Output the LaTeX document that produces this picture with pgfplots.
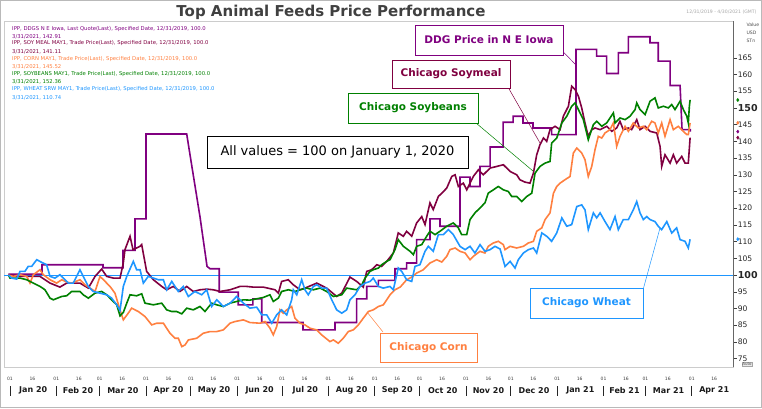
\documentclass[border=0pt]{standalone}
\usepackage{fontspec}
\setmainfont{DejaVu Sans}
\usepackage{pgfplots}
\pgfplotsset{compat=1.18}
\definecolor{ddg}{HTML}{800080}
\definecolor{meal}{HTML}{800040}
\definecolor{bean}{HTML}{008000}
\definecolor{corn}{HTML}{FF8040}
\definecolor{wheat}{HTML}{1E96FF}
\definecolor{titlec}{HTML}{404040}
\begin{document}
\begin{tikzpicture}[x=1pt,y=1pt]
\path[use as bounding box] (0,0) rectangle (762,408);
\draw[gray!55, line width=0.8pt] (0.4,0.4) rectangle (761.6,407.6);
\node[font=\bfseries\fontsize{15}{18}\selectfont, text=titlec] at (331,396) {Top Animal Feeds Price Performance};
\node[anchor=east, font=\fontsize{4.6}{5}\selectfont, text=gray!70] at (760,396) {12/31/2019 - 4/30/2021 (GMT)};
\node[anchor=west, font=\fontsize{4.6}{5}\selectfont, text=black!70] at (743,383) {Value};
\node[anchor=west, font=\fontsize{4.6}{5}\selectfont, text=black!70] at (743,375) {USD};
\node[anchor=west, font=\fontsize{4.6}{5}\selectfont, text=black!70] at (743,367) {STn};
\node[draw=gray!70, fill=gray!15, inner sep=0.6pt, font=\fontsize{4}{4.5}\selectfont, text=black!70] at (747,43.5) {Auto};
\begin{axis}[
  at={(4pt,41pt)}, anchor=south west, scale only axis,
  width=729.6pt, height=346pt,
  xmin=-4, xmax=484, ymin=72.5, ymax=176,
  clip=false,
  axis line style={gray!40, line width=0.6pt},
  /pgf/number format/assume math mode=true,
  ytick pos=right, yticklabel pos=right, tick align=outside,
  major tick length=3pt,
  ytick={75,80,85,90,95,105,110,115,120,125,130,135,140,145,155,160,165},
  extra y ticks={100,150},
  extra y tick style={yticklabel style={font=\bfseries\fontsize{9.5}{10}\selectfont}},
  ytick style={black!75, line width=0.5pt},
  yticklabel style={font=\fontsize{7.6}{8}\selectfont, text=black!85, inner sep=1pt},
  xtick={0,15,31,46,60,75,91,106,121,136,152,167,182,197,213,228,244,259,274,289,305,320,335,350,366,381,397,412,425,440,456,471},
  xticklabels={01,16,01,16,01,16,01,16,01,16,01,16,01,16,01,16,01,16,01,16,01,16,01,16,01,16,01,16,01,16,01,16},
  xtick style={draw=none},
  xticklabel style={font=\fontsize{4.5}{5}\selectfont, text=black!75, inner sep=1pt, yshift=-6pt},
]
% reference line at 100
\addplot[wheat, line width=0.7pt] coordinates {(-4,100) (484,100)};
% DDG N E Iowa
\addplot[ddg, line width=1.6pt] coordinates {
(-1,100.3) (21.4,100.3) (21.4,103.1) (62.2,103.1) (62.2,102.2) (75.6,102.2) (75.6,107.4) (83.6,107.4) (83.6,116.8) (91,116.8) (91,142.2) (118.2,142.2) (121.7,132.4) (127.1,117.4) (131.8,102.6) (133.8,101.9) (140,101.9) (140,94.9) (152.7,94.9) (152.7,91.1) (162.5,91.1) (162.5,92.9) (168.4,92.9) (168.4,85.8) (196,85.8) (196,83.6) (217.4,83.6) (217.4,85.8) (231.9,85.8) (231.9,92.9) (238.6,92.9) (238.6,96.6) (246.4,96.6) (246.4,98.4) (257.5,98.4) (257.5,101.9) (265.3,101.9) (265.3,103.6) (272,103.6) (272,110.6) (280.9,110.6) (280.9,116.8) (287.6,116.8) (287.6,114.6) (301,114.6) (301,129.3) (307.7,129.3) (307.7,126.5) (314.4,126.5) (314.4,132.5) (321.1,132.5) (321.1,138.3) (329.8,138.3) (329.8,145.7) (336.5,145.7) (336.5,147.5) (343.1,147.5) (343.1,145.5) (349.8,145.5) (349.8,144) (362.3,144) (362.3,142) (378.6,142) (378.6,167.5) (392.4,167.5) (392.4,165.5) (399.1,165.5) (399.1,160.3) (406.9,160.3) (406.9,166.5) (413.6,166.5) (413.6,171.3) (428.1,171.3) (428.1,169.5) (433.6,169.5) (433.6,164) (441.5,164) (441.5,156.7) (448.2,156.7) (449.5,143.5) (455,143.5) (455,142.9)};
% Soymeal
\addplot[meal, line width=1.6pt] coordinates {
(-1,100) (6.7,99.6) (20.1,99.6) (26.8,97.6) (33.4,96.4) (37.9,97.6) (46.8,97.6) (52.4,96.1) (56.9,99.6) (61.3,101.8) (64.7,99.6) (69.1,99.1) (73.6,99.1) (75.8,103.6) (76.9,107.6) (80.3,111.6) (82.3,107.6) (87,108.6) (88.1,109.1) (91.4,101.1) (95.9,98.6) (101.5,96.6) (104.8,95.6) (109.2,96.6) (113.7,95.1) (118.2,96.6) (122.6,95.1) (127.1,95.6) (131.6,95.8) (136,95.6) (140.5,95.1) (147.2,95.6) (153.8,96.6) (158.3,96.6) (162.7,96.4) (169.4,96.4) (177.3,95.6) (179.5,94.6) (181.7,98.1) (186.2,98.6) (189.5,97.1) (194,95.6) (197.3,96.1) (205.2,97.6) (211.8,96.1) (218.5,93.6) (221.9,94.6) (227.4,99.4) (231.9,98.1) (236.3,96.4) (238.6,101.1) (241.9,101.6) (245.3,103.1) (248.6,102.6) (252,104.1) (256.4,106.6) (259.7,112.6) (263.1,111.6) (265.3,113.1) (268.7,111.6) (272,115.6) (275.4,117.5) (277.6,115.1) (280.9,121.6) (283.1,119.6) (286.5,123.5) (288.8,124.5) (292.1,126) (295.5,129.5) (297.7,130) (299.9,126.5) (303.2,127.5) (305.5,125.5) (309.9,129.5) (313.3,131.5) (316.6,130) (321.1,132) (325.6,132.5) (330,133) (334.5,131) (338.9,130) (341.1,128.5) (344.5,127.8) (347.8,127.5) (350.1,130.5) (352.3,136) (354.5,139) (356.8,141) (359,140) (361.2,143.5) (364.6,144.5) (367.9,143.5) (370.1,147.5) (373.5,150.5) (375.7,156.5) (378,155.5) (380.2,153.5) (382.4,150) (384.6,145.5) (386.8,141.5) (389.1,143.5) (391.3,144) (394.7,143.5) (399.1,144.5) (402.5,143) (405.8,144) (408,146) (410.2,143.5) (413.6,144) (415.8,143.5) (419.2,146.5) (421.4,143.5) (424.8,144.5) (428.1,143) (432.6,142.5) (434.8,138.5) (435.9,132.5) (438.1,136) (441.5,133.5) (443.7,136) (445.9,133.5) (449.3,135.5) (451.5,133.5) (453.7,133.5) (454.9,141.1)};
% Corn
\addplot[corn, line width=1.6pt] coordinates {
(-1,100) (2.2,99.6) (6.7,100.1) (11.2,99.6) (13.4,97.6) (15.6,100.1) (20.1,101.6) (22.3,100.1) (26.8,98.6) (31.2,97.6) (34.6,98.6) (37.9,97.9) (41.3,97.6) (46.8,98.6) (50.2,97.1) (53.5,96.1) (56.9,95.1) (60.2,99.6) (62.5,98.6) (66.9,96.6) (70.2,94.6) (73.6,89.6) (75.8,86.6) (79.1,88.6) (81.4,90.1) (85.8,89.1) (90.3,87.6) (94.8,85.1) (98.1,85.6) (102.6,85.6) (107,82.6) (110.4,81.1) (112.6,81.1) (114.9,78.6) (117.1,79.1) (119.3,80.6) (124.9,81.1) (129.3,82.6) (133.8,83.1) (138.3,83.1) (142.7,83.6) (147.2,85.6) (150.5,86.1) (156.1,86.6) (160.5,85.8) (167.2,85.6) (170.6,86.1) (173.9,84.1) (176.1,82.1) (178.4,84.6) (180.6,89.6) (182.8,88.6) (185.1,89.6) (188.4,90.6) (190.6,87.1) (194,85.6) (197.3,85.1) (200.7,84.1) (205.2,83.6) (208.5,82.1) (214,80.1) (216.3,80.6) (219.6,79.6) (222.9,81.1) (226.3,83.1) (229.6,83.6) (233,85.1) (236.3,87.1) (239.7,89.1) (243,89.6) (246.4,90.6) (249.7,91.1) (252,92.6) (254.2,94.1) (257.5,95.6) (261,96.4) (265.3,98.6) (268.7,99.4) (272,100.6) (276.5,101.6) (280.9,103.6) (285.4,104.6) (288.8,103.9) (292.1,105.6) (294.3,107.6) (297.7,108.1) (301,107.1) (304.4,106.6) (307.7,104.6) (309.9,105.6) (314.4,107.1) (317.7,106.6) (319.9,108.6) (323.3,109.6) (326.6,110.1) (330,109.1) (331.1,107.6) (334.5,108.6) (338.9,108.1) (343.4,108.6) (346.7,109.6) (350.1,110.1) (352.3,113.1) (355.7,114.1) (357.9,116.6) (361.2,118.6) (363.5,124.5) (365.7,126.5) (367.9,127.5) (371.2,128.5) (374.6,129.5) (376.8,136.5) (379.1,138) (382.4,136.5) (384.6,134.5) (386.8,129.5) (389.1,132.5) (391.3,137.5) (393.5,141.5) (395.8,141) (398,142.5) (401.3,143.5) (403.6,145.5) (405.8,138.5) (408,141.5) (411.4,144.5) (413.6,143) (416.9,145.5) (420.3,144) (423.6,144.5) (425.9,143.5) (429.2,146) (431.4,145.5) (433.6,142.5) (435.9,145.5) (438.1,141.5) (441.5,146.5) (443.7,143.5) (447,144.5) (450.4,143) (452.7,142) (453.7,142) (454.9,145.5)};
% Soybeans
\addplot[bean, line width=1.6pt] coordinates {
(-1,100) (0,99.1) (6.7,99.1) (11.2,98.6) (15.6,97.6) (20.1,96.6) (23.4,95.6) (26.8,93.1) (29,92.6) (34.6,93.6) (37.9,93.8) (41.3,95.1) (46.8,95.1) (49,94.1) (52.4,93.1) (56.9,94.6) (61.3,95.1) (64.7,94.1) (68,92.6) (71.4,91.1) (73.6,87.8) (75.8,88.8) (78.1,91.6) (80.3,94.1) (84.7,93.8) (88.1,94.4) (90.3,91.6) (95.9,91.1) (101.5,91.6) (104.8,89.6) (108.2,89.1) (111.5,89.1) (114.9,88.4) (118.2,90.1) (122.6,89.6) (127.1,90.6) (130.4,89.1) (134.9,91.6) (138.3,91.1) (142.7,90.6) (147.2,91.6) (151.6,92.1) (156.1,92.6) (160.5,92.5) (165,92.9) (169.4,93.3) (173.9,94.1) (176.1,92.1) (179.5,93.1) (181.7,95.1) (186.2,95.6) (190.6,95.1) (194,95.6) (198.5,96.1) (202.9,95.6) (207.4,96.1) (211.8,95.1) (216.3,93.6) (221.9,94.1) (225.2,96.1) (231.9,95.6) (235.3,97.1) (237.5,99.1) (240.8,101.1) (243,101.6) (246.4,102.1) (248.6,103.1) (252,104.1) (254.2,104.6) (257.5,107.6) (259.7,110.6) (263.1,108.6) (267.6,107.1) (269.8,106.1) (272,108.6) (275.4,109.1) (278.7,111.6) (280.9,113.1) (284.3,112.1) (287.6,113.1) (292.1,114.6) (296.5,115.6) (299.9,114.1) (302.1,112.1) (305.5,112.1) (307.7,116.6) (311,118.6) (314.4,120.1) (317.7,121.6) (319.9,124.5) (323.3,125.5) (326.6,126.5) (330,125.5) (333.3,125) (335.6,123.5) (338.9,123.5) (342.3,122) (345.6,123.5) (349,124.5) (351.2,130.5) (354.5,132.5) (357.9,133.5) (361.2,134) (362.3,139.5) (365.7,141) (369.1,145.5) (372.4,147.5) (375.7,150.5) (378,151.5) (380.2,149.5) (383.5,146.5) (386.8,140.5) (390.2,145) (392.4,146) (395.8,144.5) (399.1,145.5) (403.6,148.5) (404.7,145.5) (408,147) (411.4,146.5) (414.7,147.5) (418.1,149.5) (419.2,151.5) (421.4,149.5) (424.8,148) (428.1,152) (431.4,153) (433.6,150) (437,150.5) (440.4,150) (442.6,151) (444.8,149.5) (448.2,152) (450.4,149.5) (452.7,147.5) (453.7,145.5) (454.4,150.5) (454.9,152.4)};
% Wheat
\addplot[wheat, line width=1.6pt] coordinates {
(-1,100) (1.1,99.1) (4.5,98.8) (6.7,101.1) (10,101.1) (12.2,102.6) (14.5,102.6) (17.9,104.6) (21.2,103.8) (24.5,103.1) (26.8,99.6) (30.1,99.1) (33.4,100.1) (36.8,98.6) (39,97.6) (42.3,97.6) (46.8,101.6) (49,99.6) (52.4,96.6) (55.7,95.1) (60.2,94.6) (64.7,94.1) (68,93.1) (71.4,91.1) (73.6,89.4) (75.8,96.6) (78.1,99.6) (82.5,104.1) (84.7,101.6) (87,101.6) (89.2,97.6) (92.5,99.6) (95.9,99.1) (99.2,98.6) (102.6,98.6) (104.8,95.6) (108.2,98.1) (112.6,95.1) (115.9,96.6) (119.3,93.6) (123.7,95.1) (128.2,94.1) (131.6,95.6) (134.9,90.6) (138.3,92.6) (142.7,90.6) (147.2,91.6) (151.6,93.6) (156.1,91.6) (160.5,90.1) (165,90.4) (168.4,88.1) (171.7,88.1) (175.1,85.6) (178.4,88.1) (181.7,89.6) (185.1,88.1) (188.4,92.6) (189.5,95.6) (191.8,94.1) (195.1,98.6) (197.3,95.6) (199.5,94.1) (202.9,96.6) (205.2,97.1) (208.5,96.1) (211.8,96.1) (215.2,92.6) (218.5,89.6) (221.9,88.6) (225.2,89.6) (227.4,92.6) (230.8,94.1) (234.1,96.6) (237.5,97.6) (240.8,98.1) (243,99.1) (246.4,96.6) (249.7,96.1) (254.2,96.6) (256.4,95.6) (259.7,102.1) (262,101.1) (265.3,98.6) (268.7,98.1) (270.9,102.6) (274.2,103.1) (277.6,107.1) (279.8,108.6) (283.1,107.1) (286.5,112.1) (289.9,112.1) (293.2,113.6) (296.5,112.1) (301,108.6) (304.4,107.6) (307.7,108.6) (311,106.6) (314.4,109.1) (317.7,107.1) (321.1,107.6) (324.4,108.6) (327.8,107.8) (331.1,102.6) (334.5,104.1) (337.8,102.1) (340,104.6) (343.4,106.6) (346.7,107.6) (350.1,108.1) (352.3,106.6) (355.7,112.6) (359,111.6) (362.3,110.1) (365.7,112.6) (369.1,117.1) (372.4,114.6) (375.7,115.1) (379.1,120.5) (382.4,121) (384.6,119.5) (386.8,113.6) (390.2,118.6) (392.4,117.1) (394.7,118.6) (398,116) (401.3,113.6) (404.7,117.5) (406.9,113.6) (410.2,116.6) (413.6,116.6) (416.9,119.5) (419.2,122) (421.4,118.6) (423.6,116.6) (425.9,117.5) (428.1,116.6) (431.4,116) (433.6,114.6) (435.9,113.6) (439.3,116) (442.6,112.6) (445.9,114.1) (448.2,110.6) (451.5,110.1) (453.7,108.1) (454.9,110.7)};
% last-value markers
\addplot[only marks, mark=diamond*, mark size=1.6pt, bean] coordinates {(486.8,152.36)};
\addplot[only marks, mark=diamond*, mark size=1.6pt, corn] coordinates {(486.8,145.52)};
\addplot[only marks, mark=diamond*, mark size=1.6pt, ddg] coordinates {(486.8,142.91)};
\addplot[only marks, mark=diamond*, mark size=1.6pt, meal] coordinates {(486.8,141.11)};
\addplot[only marks, mark=diamond*, mark size=1.6pt, wheat] coordinates {(486.8,110.74)};
% right axis line
\draw[black!60, line width=0.6pt] (rel axis cs:1,0) -- (rel axis cs:1,1);
% month labels and separators
\pgfplotsinvokeforeach{0,31,60,91,121,152,182,213,244,274,305,335,366,397,425,456}{
  \draw[black!85, line width=0.8pt] ([yshift=-19pt]axis cs:#1,72.5) -- ([yshift=-29pt]axis cs:#1,72.5);
}
\foreach \d/\m in {15.5/Jan 20,45.5/Feb 20,75.5/Mar 20,106/Apr 20,136.5/May 20,167/Jun 20,197.5/Jul 20,228.5/Aug 20,259/Sep 20,289.5/Oct 20,320/Nov 20,350.5/Dec 20,381.5/Jan 21,411/Feb 21,440.5/Mar 21,471/Apr 21}{
  \edef\tmp{\noexpand\node[font=\noexpand\bfseries\noexpand\fontsize{8}{9}\noexpand\selectfont, text=black!90] at ([yshift=-23.5pt]axis cs:\d,72.5) {\m};}\tmp
}
\end{axis}
% legend text block
\begin{scope}[every node/.style={anchor=west, inner sep=0pt, font=\fontsize{5.3}{6}\selectfont}]
\node[text=ddg] at (12,379) {IPP, DDGS N E Iowa, Last Quote(Last), Specified Date, 12/31/2019, 100.0};
\node[text=ddg] at (12,371.5) {3/31/2021, 142.91};
\node[text=meal] at (12,364.5) {IPP, SOY MEAL MAY1, Trade Price(Last), Specified Date, 12/31/2019, 100.0};
\node[text=meal] at (12,356.5) {3/31/2021, 141.11};
\node[text=corn] at (12,348.5) {IPP, CORN MAY1, Trade Price(Last), Specified Date, 12/31/2019, 100.0};
\node[text=corn] at (12,341.5) {3/31/2021, 145.52};
\node[text=bean] at (12,334) {IPP, SOYBEANS MAY1, Trade Price(Last), Specified Date, 12/31/2019, 100.0};
\node[text=bean] at (12,326) {3/31/2021, 152.36};
\node[text=wheat] at (12,318.5) {IPP, WHEAT SRW MAY1, Trade Price(Last), Specified Date, 12/31/2019, 100.0};
\node[text=wheat] at (12,310) {3/31/2021, 110.74};
\end{scope}
% callout connectors
\draw[ddg, line width=0.5pt] (563,356.3) -- (576,343);
\draw[meal, line width=0.5pt] (508.5,320) -- (540,265);
\draw[bean, line width=0.5pt] (476,285) -- (533,237);
\draw[wheat, line width=0.5pt] (643,118) -- (660,180);
\draw[corn, line width=0.5pt] (383,76) -- (367,96);
% callout boxes
\node[draw=ddg, fill=white, line width=0.8pt, minimum width=148pt, minimum height=30pt, inner sep=0pt, text=ddg, font=\bfseries\fontsize{10.5}{12}\selectfont] at (489,368) {DDG Price in N E Iowa};
\node[draw=meal, fill=white, line width=0.8pt, minimum width=118pt, minimum height=28pt, inner sep=0pt, text=meal, font=\bfseries\fontsize{10.5}{12}\selectfont] at (451,334) {Chicago Soymeal};
\node[draw=bean, fill=white, line width=0.8pt, minimum width=130pt, minimum height=30pt, inner sep=0pt, text=bean, font=\bfseries\fontsize{10.5}{12}\selectfont] at (413,300) {Chicago Soybeans};
\node[draw=black, fill=white, line width=0.8pt, minimum width=261pt, minimum height=32pt, inner sep=0pt, text=black, font=\fontsize{13}{15}\selectfont] at (337.5,256) {All values = 100 on January 1, 2020};
\node[draw=wheat, fill=white, line width=0.8pt, minimum width=113pt, minimum height=30pt, inner sep=0pt, text=wheat, font=\bfseries\fontsize{10.5}{12}\selectfont] at (586.5,105) {Chicago Wheat};
\node[draw=corn, fill=white, line width=0.8pt, minimum width=97pt, minimum height=29pt, inner sep=0pt, text=corn, font=\bfseries\fontsize{10.5}{12}\selectfont] at (428.5,60.5) {Chicago Corn};
\end{tikzpicture}
\end{document}
